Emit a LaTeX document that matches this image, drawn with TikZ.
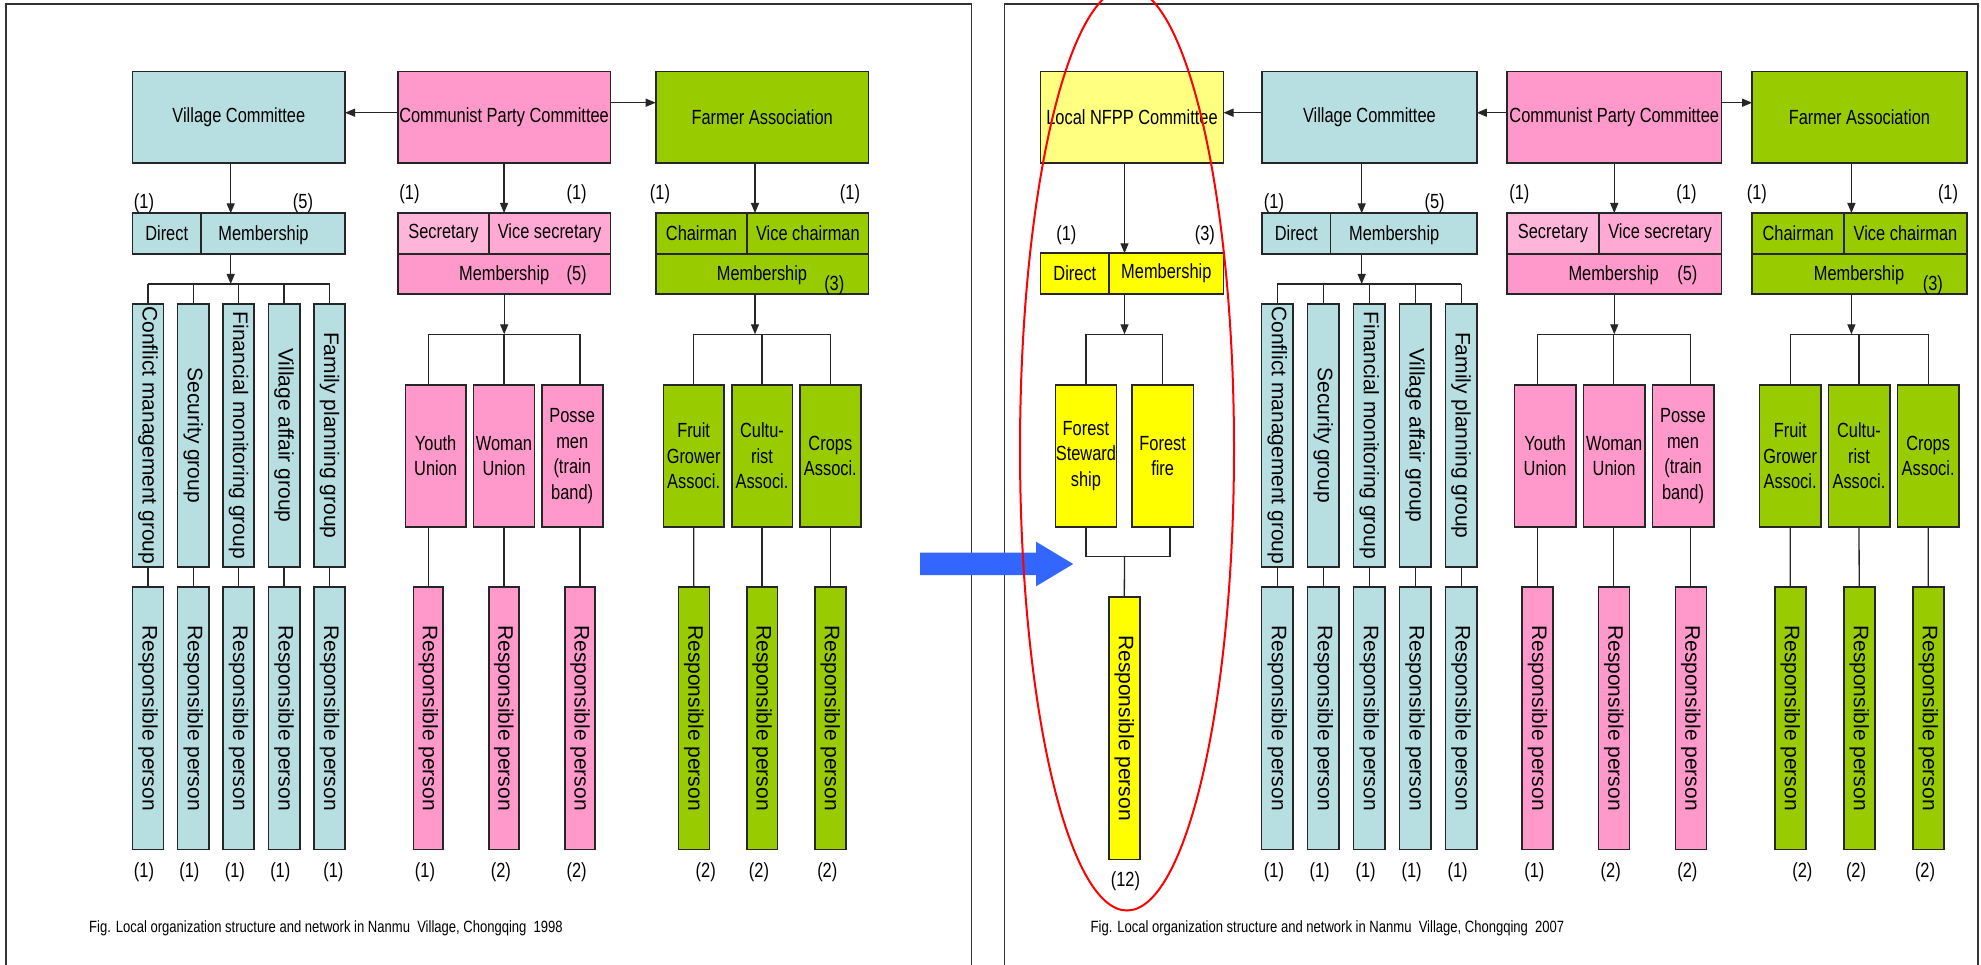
\documentclass[tikz,border=0pt]{standalone}
\usepackage{fontspec}
\setmainfont{Liberation Sans}
\newfontfamily\narrow[FakeStretch=0.8]{Liberation Sans}
\usetikzlibrary{arrows.meta}
\definecolor{vcblue}{HTML}{B7DEE1}
\definecolor{pinkM}{HTML}{FF99CC}
\definecolor{pinkS}{HTML}{FFB5DA}
\definecolor{pinkV}{HTML}{FFA9D4}
\definecolor{grn}{HTML}{99CC00}
\definecolor{yelL}{HTML}{FFFF80}
\definecolor{yel}{HTML}{FFFF00}
\definecolor{bluearrow}{HTML}{3366FF}
\tikzset{
 box/.style={draw=black!85,line width=1.6pt,inner sep=0pt,outer sep=0pt,align=center,font=\narrow\fontsize{20.5}{25.5}\selectfont},
 vbox/.style={box,font=\fontsize{21}{25}\selectfont},
 conn/.style={draw=black!85,line width=1.3pt},
 arr/.style={conn,-{Triangle[length=10pt,width=8pt]}},
 lbl/.style={inner sep=0pt,font=\narrow\fontsize{20.5}{24}\selectfont},
 capt/.style={inner sep=0pt,font=\narrow\fontsize{16.3}{20}\selectfont},
 frame/.style={draw=black!80,line width=1.5pt},
}
\newcommand\mkbox[7][]{\node[box,minimum width={(#5-#3)*1pt},minimum height={(#6-#4)*1pt},#1] (#2) at ({(#3+#5)/2},{(#4+#6)/2}) {#7};}
\newcommand\rtext[1]{\rotatebox{-90}{#1}}
\begin{document}
\begin{tikzpicture}[x=1pt,y=-1pt]
\useasboundingbox (0,0) rectangle (1981,965);
\clip (0,0) rectangle (1981,965);
\fill[white] (0,0) rectangle (1981,965);
% frames
\draw[frame] (6,990) -- (6,4) -- (971.3,4) -- (971.3,990);
\draw[frame] (1004.5,990) -- (1004.5,4) -- (1978,4) -- (1978,990);
\coordinate (ya) at (0,112.7);
\coordinate (yb) at (0,102.7);

% ================= LEFT PANEL =================
% Village committee
\mkbox[fill=vcblue]{lvc}{132.6}{71.7}{345.1}{163.3}{Village Committee}
\mkbox[fill=vcblue]{lvd}{132.6}{213.3}{200.8}{254}{Direct}
\mkbox[fill=vcblue]{lvm}{200.8}{213.3}{345.1}{254}{}
\node[lbl] (lvmt) at (263.5,235) {Membership};
\node[lbl] (lvn1) at (144,203) {(1)};
\node[lbl] (lvn5) at (303,203) {(5)};
\coordinate (lvj) at (230.7,284);
\draw[arr] (lvc.south -| lvj) -- (lvm.north -| lvj);
\draw[arr] (lvm.south -| lvj) -- (lvj);
\mkbox[vbox,fill=vcblue]{lg1}{132.6}{304}{163.3}{566.7}{\rtext{Conflict management group}}
\mkbox[vbox,fill=vcblue]{lg2}{177.6}{304}{208.8}{566.7}{\rtext{Security group}}
\mkbox[vbox,fill=vcblue]{lg3}{223}{304}{254.2}{566.7}{\rtext{Financial monitoring group}}
\mkbox[vbox,fill=vcblue]{lg4}{268.5}{304}{299.7}{566.7}{\rtext{Village affair group}}
\mkbox[vbox,fill=vcblue]{lg5}{314}{304}{345.1}{566.7}{\rtext{Family planning group}}
\mkbox[vbox,fill=vcblue]{lr1}{132.6}{586.7}{163.3}{849.3}{\rtext{Responsible person}}
\mkbox[vbox,fill=vcblue]{lr2}{177.6}{586.7}{208.8}{849.3}{\rtext{Responsible person}}
\mkbox[vbox,fill=vcblue]{lr3}{223}{586.7}{254.2}{849.3}{\rtext{Responsible person}}
\mkbox[vbox,fill=vcblue]{lr4}{268.5}{586.7}{299.7}{849.3}{\rtext{Responsible person}}
\mkbox[vbox,fill=vcblue]{lr5}{314}{586.7}{345.1}{849.3}{\rtext{Responsible person}}
\draw[conn] (lg1.north |- lvj) -- (lg5.north |- lvj);
\foreach \i in {1,...,5} {
  \draw[conn] (lg\i.north |- lvj) -- (lg\i.north);
  \draw[conn] (lg\i.south) -- (lr\i.north);
}
\node[lbl] (lb1) at (144,871.7) {(1)};
\node[lbl] (lb2) at (189.4,871.7) {(1)};
\node[lbl] (lb3) at (234.9,871.7) {(1)};
\node[lbl] (lb4) at (280.3,871.7) {(1)};
\node[lbl] (lb5) at (333.4,871.7) {(1)};

% Communist Party
\mkbox[fill=pinkM]{lcpc}{397.8}{71.7}{610.3}{163.3}{Communist Party Committee}
\mkbox[fill=pinkS]{lcs}{397.8}{213}{489}{254}{Secretary}
\mkbox[fill=pinkV]{lcv}{489}{213}{610.3}{254}{Vice secretary}
\mkbox[fill=pinkM]{lcm}{397.8}{254}{610.3}{294}{}
\node[lbl] (lcmt) at (504.2,275) {Membership};
\node[lbl] (lcm5) at (576.6,275) {(5)};
\node[lbl] (lcn1) at (409.5,194) {(1)};
\node[lbl] (lcn2) at (576.6,194) {(1)};
\coordinate (lcj) at (504.2,334.3);
\draw[arr] (lcpc.south) -- (lcpc.south |- lcs.north);
\draw[arr] (lcm.south -| lcj) -- (lcj);
\mkbox[fill=pinkM]{lu1}{405.3}{385}{466}{526.7}{Youth\\Union}
\mkbox[fill=pinkM]{lu2}{473.5}{385}{534.5}{526.7}{Woman\\Union}
\mkbox[fill=pinkM]{lu3}{541.7}{385}{602.7}{526.7}{Posse\\men\\(train\\band)}
\mkbox[vbox,fill=pinkM]{lp1}{413.3}{586.7}{443.2}{849.3}{\rtext{Responsible person}}
\mkbox[vbox,fill=pinkM]{lp2}{488.7}{586.7}{519}{849.3}{\rtext{Responsible person}}
\mkbox[vbox,fill=pinkM]{lp3}{564.8}{586.7}{595.2}{849.3}{\rtext{Responsible person}}
\draw[conn] (lp1.north |- lcj) -- (lp3.north |- lcj);
\foreach \i in {1,2,3} {
  \draw[conn] (lp\i.north |- lcj) -- (lp\i.north |- lu\i.north);
  \draw[conn] (lp\i.north |- lu\i.south) -- (lp\i.north);
}
\node[lbl] (lpb1) at (425,871.7) {(1)};
\node[lbl] (lpb2) at (500.9,871.7) {(2)};
\node[lbl] (lpb3) at (576.6,871.7) {(2)};

% Farmer Association
\mkbox[fill=grn]{lfa}{655.7}{71.7}{868.6}{163.3}{Farmer Association}
\mkbox[fill=grn]{lfc}{655.7}{213}{747.2}{254}{Chairman}
\mkbox[fill=grn]{lfv}{747.2}{213}{868.6}{254}{Vice chairman}
\mkbox[fill=grn]{lfm}{655.7}{254}{868.6}{294}{}
\node[lbl] (lfmt) at (762,275) {Membership};
\node[lbl] (lfm3) at (834.3,285) {(3)};
\node[lbl] (lfn1) at (660,194) {(1)};
\node[lbl] (lfn2) at (850,194) {(1)};
\coordinate (lfj) at (755,334.3);
\draw[arr] (lfa.south -| lfj) -- (lfv.north -| lfj);
\draw[arr] (lfm.south -| lfj) -- (lfj);
\mkbox[fill=grn]{la1}{663.3}{385}{724}{526.7}{Fruit\\Grower\\Associ.}
\mkbox[fill=grn]{la2}{731.7}{385}{792.3}{526.7}{Cultu-\\rist\\Associ.}
\mkbox[fill=grn]{la3}{800}{385}{860.7}{526.7}{Crops\\Associ.}
\mkbox[vbox,fill=grn]{lq1}{678.3}{586.7}{709.3}{849.3}{\rtext{Responsible person}}
\mkbox[vbox,fill=grn]{lq2}{746.7}{586.7}{777.3}{849.3}{\rtext{Responsible person}}
\mkbox[vbox,fill=grn]{lq3}{815}{586.7}{845.7}{849.3}{\rtext{Responsible person}}
\draw[conn] (la1.north |- lfj) -- (la3.north |- lfj);
\foreach \i in {1,2,3} {
  \draw[conn] (la\i.north |- lfj) -- (la\i.north);
  \draw[conn] (la\i.south) -- (lq\i.north);
}
\node[lbl] (lqb1) at (705.7,871.7) {(2)};
\node[lbl] (lqb2) at (759,871.7) {(2)};
\node[lbl] (lqb3) at (827.3,871.7) {(2)};

\draw[arr] (lcpc.west |- ya) -- (lvc.east |- ya);
\draw[arr] (lcpc.east |- yb) -- (lfa.west |- yb);

\node[capt] (capl) at (326,928) {Fig. Local organization structure and network in Nanmu\ \ Village, Chongqing\ \ 1998};

% ================= BLUE ARROW =================
\fill[bluearrow] (920,552.7) -- (1036,552.7) -- (1036,541.7) -- (1073.2,564) -- (1036,586.3) -- (1036,575) -- (920,575) -- cycle;

% ================= RIGHT PANEL =================
% Local NFPP
\mkbox[fill=yelL]{rn}{1040.5}{71.7}{1223.5}{163.3}{Local NFPP Committee}
\mkbox[fill=yel]{rnd}{1040.5}{253.3}{1109.2}{294}{Direct}
\mkbox[fill=yel]{rnm}{1109.2}{253.3}{1223.5}{294}{Membership}
\node[lbl] (rnn1) at (1066.4,235) {(1)};
\node[lbl] (rnn3) at (1204.8,235) {(3)};
\coordinate (rnj) at (1124.5,334.3);
\draw[arr] (rn.south -| rnj) -- (rnm.north -| rnj);
\draw[arr] (rnm.south -| rnj) -- (rnj);
\mkbox[fill=yel]{fs}{1055.3}{385}{1116.5}{526.7}{Forest\\Steward\\ship}
\mkbox[fill=yel]{ff}{1132}{385}{1193.3}{526.7}{Forest\\fire}
\draw[conn] (fs.north |- rnj) -- (ff.north |- rnj);
\draw[conn] (fs.north |- rnj) -- (fs.north);
\draw[conn] (ff.north |- rnj) -- (ff.north);
\coordinate (rnk) at (1124.5,556.7);
\draw[conn] (fs.south) |- (rnk);
\draw[conn] ([xshift=7.4pt]ff.south) |- (rnk);
\mkbox[vbox,fill=yel]{nresp}{1108.9}{596.7}{1139.7}{859.3}{\rtext{Responsible person}}
\draw[conn] (rnk) -- (nresp.north);
\node[lbl] (rn12) at (1125.4,880.7) {(12)};

% Village committee
\mkbox[fill=vcblue]{rvc}{1262}{71.7}{1476.8}{163.3}{Village Committee}
\mkbox[fill=vcblue]{rvd}{1262}{213.3}{1330.4}{254}{Direct}
\mkbox[fill=vcblue]{rvm}{1330.4}{213.3}{1476.8}{254}{}
\node[lbl] (rvmt) at (1394.2,235) {Membership};
\node[lbl] (rvn1) at (1274,203) {(1)};
\node[lbl] (rvn5) at (1434.6,203) {(5)};
\coordinate (rvj) at (1361.7,284);
\draw[arr] (rvc.south -| rvj) -- (rvm.north -| rvj);
\draw[arr] (rvm.south -| rvj) -- (rvj);
\mkbox[vbox,fill=vcblue]{rg1}{1261.6}{304}{1292.8}{566.7}{\rtext{Conflict management group}}
\mkbox[vbox,fill=vcblue]{rg2}{1307.6}{304}{1338.8}{566.7}{\rtext{Security group}}
\mkbox[vbox,fill=vcblue]{rg3}{1353.6}{304}{1384.8}{566.7}{\rtext{Financial monitoring group}}
\mkbox[vbox,fill=vcblue]{rg4}{1399.5}{304}{1430.8}{566.7}{\rtext{Village affair group}}
\mkbox[vbox,fill=vcblue]{rg5}{1445.5}{304}{1476.8}{566.7}{\rtext{Family planning group}}
\mkbox[vbox,fill=vcblue]{rr1}{1261.6}{586.7}{1292.8}{849.3}{\rtext{Responsible person}}
\mkbox[vbox,fill=vcblue]{rr2}{1307.6}{586.7}{1338.8}{849.3}{\rtext{Responsible person}}
\mkbox[vbox,fill=vcblue]{rr3}{1353.6}{586.7}{1384.8}{849.3}{\rtext{Responsible person}}
\mkbox[vbox,fill=vcblue]{rr4}{1399.5}{586.7}{1430.8}{849.3}{\rtext{Responsible person}}
\mkbox[vbox,fill=vcblue]{rr5}{1445.5}{586.7}{1476.8}{849.3}{\rtext{Responsible person}}
\draw[conn] (rg1.north |- rvj) -- (rg5.north |- rvj);
\foreach \i in {1,...,5} {
  \draw[conn] (rg\i.north |- rvj) -- (rg\i.north);
  \draw[conn] (rg\i.south) -- (rr\i.north);
}
\node[lbl] (rb1) at (1274,871.7) {(1)};
\node[lbl] (rb2) at (1319.6,871.7) {(1)};
\node[lbl] (rb3) at (1365.6,871.7) {(1)};
\node[lbl] (rb4) at (1411.6,871.7) {(1)};
\node[lbl] (rb5) at (1457.6,871.7) {(1)};

% Communist Party
\mkbox[fill=pinkM]{rcpc}{1507.2}{71.7}{1721.3}{163.3}{Communist Party Committee}
\mkbox[fill=pinkS]{rcs}{1507.2}{213}{1598.8}{254}{Secretary}
\mkbox[fill=pinkV]{rcv}{1598.8}{213}{1721.3}{254}{Vice secretary}
\mkbox[fill=pinkM]{rcm}{1507.2}{254}{1721.3}{294}{}
\node[lbl] (rcmt) at (1613.6,275) {Membership};
\node[lbl] (rcm5) at (1687.4,275) {(5)};
\node[lbl] (rcn1) at (1519.3,194) {(1)};
\node[lbl] (rcn2) at (1686.5,194) {(1)};
\coordinate (rcj) at (1614.3,334.3);
\draw[arr] (rcpc.south) -- (rcpc.south |- rcs.north);
\draw[arr] (rcm.south -| rcj) -- (rcj);
\mkbox[fill=pinkM]{ru1}{1514.3}{385}{1576}{526.7}{Youth\\Union}
\mkbox[fill=pinkM]{ru2}{1583.3}{385}{1645}{526.7}{Woman\\Union}
\mkbox[fill=pinkM]{ru3}{1652.3}{385}{1713.7}{526.7}{Posse\\men\\(train\\band)}
\mkbox[vbox,fill=pinkM]{rp1}{1522}{586.7}{1553}{849.3}{\rtext{Responsible person}}
\mkbox[vbox,fill=pinkM]{rp2}{1598.3}{586.7}{1629.3}{849.3}{\rtext{Responsible person}}
\mkbox[vbox,fill=pinkM]{rp3}{1675.3}{586.7}{1706.3}{849.3}{\rtext{Responsible person}}
\draw[conn] (rp1.north |- rcj) -- (rp3.north |- rcj);
\foreach \i in {1,2,3} {
  \draw[conn] (rp\i.north |- rcj) -- (rp\i.north |- ru\i.north);
  \draw[conn] (rp\i.north |- ru\i.south) -- (rp\i.north);
}
\node[lbl] (rpb1) at (1534.3,871.7) {(1)};
\node[lbl] (rpb2) at (1610.7,871.7) {(2)};
\node[lbl] (rpb3) at (1687.3,871.7) {(2)};

% Farmer Association
\mkbox[fill=grn]{rfa}{1752.1}{71.7}{1966.7}{163.3}{Farmer Association}
\mkbox[fill=grn]{rfc}{1752.1}{213}{1844.2}{254}{Chairman}
\mkbox[fill=grn]{rfv}{1844.2}{213}{1966.7}{254}{Vice chairman}
\mkbox[fill=grn]{rfm}{1752.1}{254}{1966.7}{294}{}
\node[lbl] (rfmt) at (1859,275) {Membership};
\node[lbl] (rfm3) at (1932.8,285) {(3)};
\node[lbl] (rfn1) at (1756.9,194) {(1)};
\node[lbl] (rfn2) at (1948,194) {(1)};
\coordinate (rfj) at (1851.4,334.3);
\draw[arr] (rfa.south -| rfj) -- (rfv.north -| rfj);
\draw[arr] (rfm.south -| rfj) -- (rfj);
\mkbox[fill=grn]{ra1}{1759.3}{385}{1821}{526.7}{Fruit\\Grower\\Associ.}
\mkbox[fill=grn]{ra2}{1828.3}{385}{1889.7}{526.7}{Cultu-\\rist\\Associ.}
\mkbox[fill=grn]{ra3}{1897.3}{385}{1959}{526.7}{Crops\\Associ.}
\mkbox[vbox,fill=grn]{rq1}{1774.7}{586.7}{1805.7}{849.3}{\rtext{Responsible person}}
\mkbox[vbox,fill=grn]{rq2}{1843.7}{586.7}{1874.7}{849.3}{\rtext{Responsible person}}
\mkbox[vbox,fill=grn]{rq3}{1912.7}{586.7}{1943.7}{849.3}{\rtext{Responsible person}}
\draw[conn] (ra1.north |- rfj) -- (ra3.north |- rfj);
\foreach \i in {1,2,3} {
  \draw[conn] (ra\i.north |- rfj) -- (ra\i.north);
  \draw[conn] (ra\i.south) -- (rq\i.north);
}
\node[lbl] (rqb1) at (1802.3,871.7) {(2)};
\node[lbl] (rqb2) at (1856,871.7) {(2)};
\node[lbl] (rqb3) at (1925,871.7) {(2)};

\draw[arr] (rvc.west |- ya) -- (rn.east |- ya);
\draw[arr] (rcpc.west |- ya) -- (rvc.east |- ya);
\draw[arr] (rcpc.east |- yb) -- (rfa.west |- yb);

\node[capt] (capr) at (1327.5,928) {Fig. Local organization structure and network in Nanmu\ \ Village, Chongqing\ \ 2007};

% red ellipse
\draw[red,line width=2pt] (1127,449) ellipse [x radius=107pt, y radius=461.5pt];
\end{tikzpicture}
\end{document}
